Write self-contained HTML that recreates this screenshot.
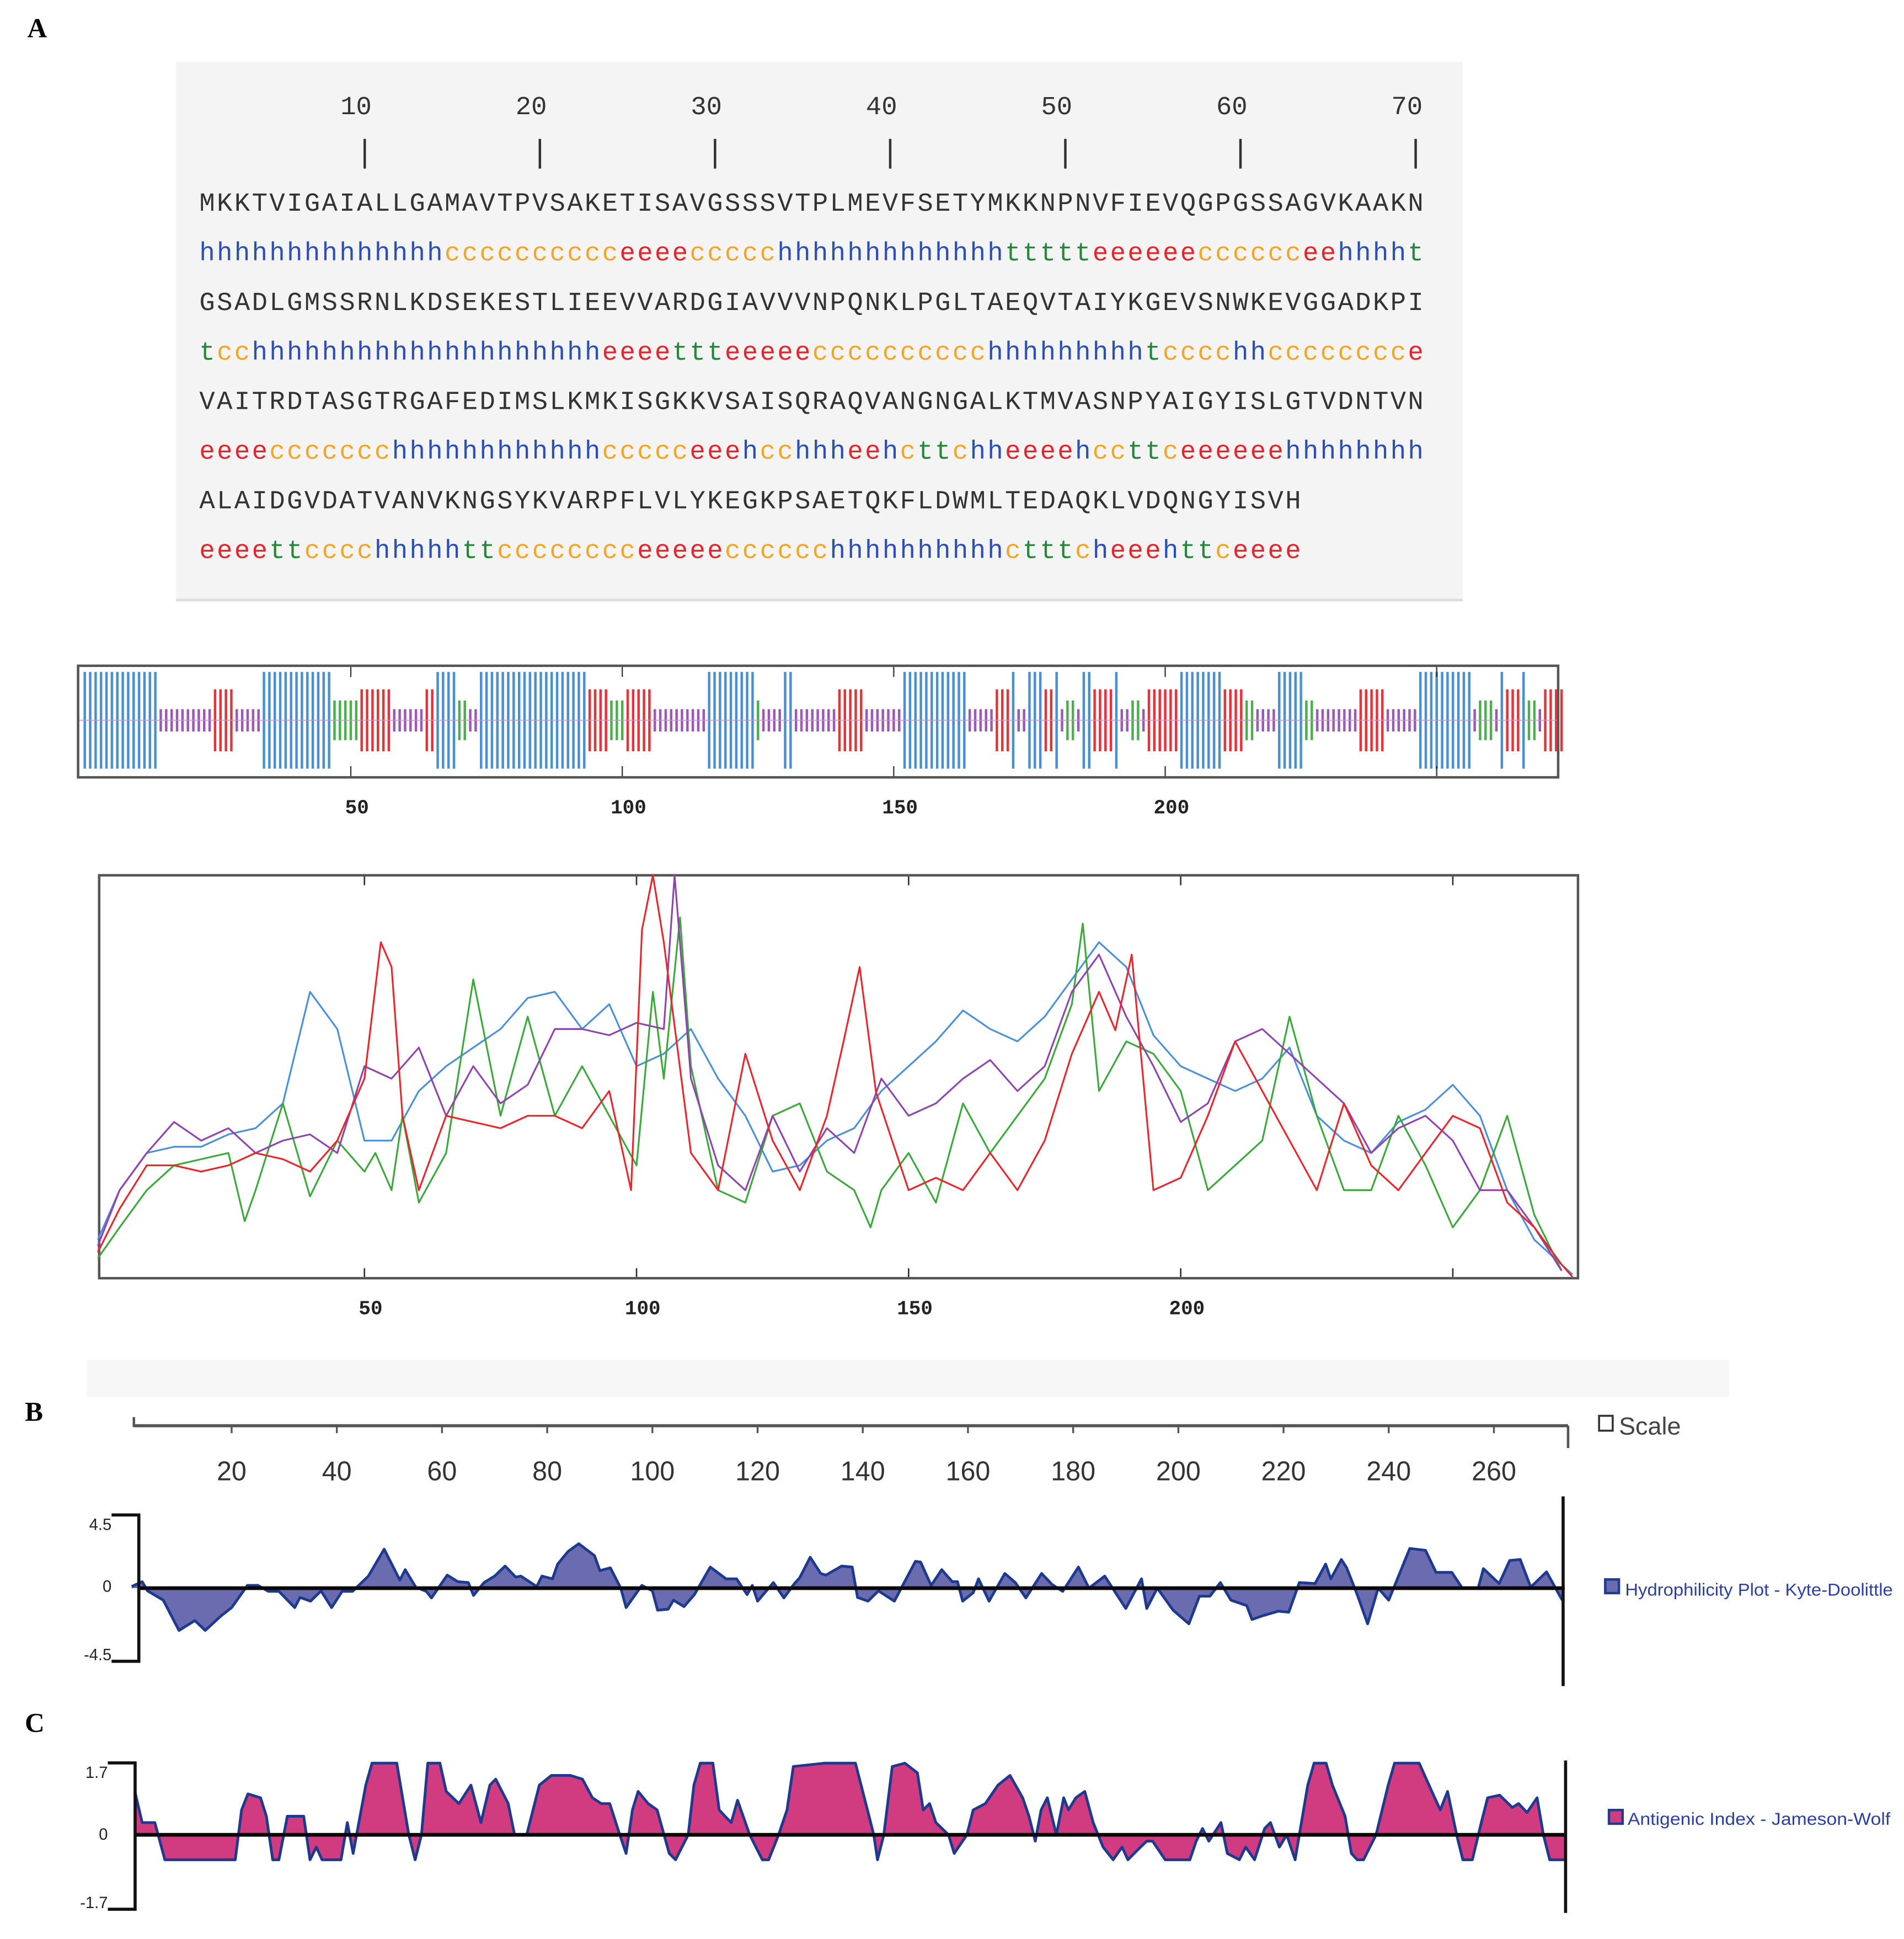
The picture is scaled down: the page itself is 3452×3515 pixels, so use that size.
<!DOCTYPE html>
<html><head><meta charset="utf-8"><style>
html,body{margin:0;padding:0;background:#fff}
svg{display:block}
</style></head><body>
<svg id="root" xmlns="http://www.w3.org/2000/svg" width="3452" height="3515" viewBox="0 0 1536 1564">
<rect x="0" y="0" width="1536" height="1564" fill="#fff"/>
<text x="22" y="30" font-family="Liberation Serif,serif" font-weight="bold" font-size="22">A</text>
<rect x="142" y="50" width="1038" height="434" fill="#f4f4f4"/>
<rect x="142" y="483" width="1038" height="2" fill="#dcdcdc"/>
<g id="seqg"></g>
<g id="trackg"></g>
<g id="lineg"></g>
<rect x="70" y="1097" width="1325" height="30" fill="#f7f7f7"/>
<text x="20" y="1146" font-family="Liberation Serif,serif" font-weight="bold" font-size="22">B</text>
<text x="20" y="1397" font-family="Liberation Serif,serif" font-weight="bold" font-size="22">C</text>
<g id="rulerg"></g>
<rect x="1290" y="1142" width="11" height="12" fill="#fff" stroke="#333" stroke-width="1.6"/>
<text x="1306" y="1157" font-family="Liberation Sans,sans-serif" font-size="20" fill="#444" textLength="50" lengthAdjust="spacingAndGlyphs">Scale</text>
<g id="hydg"></g>
<g id="antg"></g>
<rect x="1295" y="1274" width="11" height="11" fill="#6b6bb0" stroke="#1f3c8f" stroke-width="2"/>
<text x="1311" y="1287" font-family="Liberation Sans,sans-serif" font-size="14" fill="#2a3fa0" textLength="216" lengthAdjust="spacingAndGlyphs">Hydrophilicity Plot - Kyte-Doolittle</text>
<rect x="1298" y="1460" width="11" height="11" fill="#d13c80" stroke="#1f3c8f" stroke-width="2"/>
<text x="1313" y="1472" font-family="Liberation Sans,sans-serif" font-size="14" fill="#2a3fa0" textLength="212" lengthAdjust="spacingAndGlyphs">Antigenic Index - Jameson-Wolf</text>
</svg>
<script>
// ---------- data ----------
const seqLines = [
"MKKTVIGAIALLGAMAVTPVSAKETISAVGSSSVTPLMEVFSETYMKKNPNVFIEVQGPGSSAGVKAAKN",
"GSADLGMSSRNLKDSEKESTLIEEVVARDGIAVVVNPQNKLPGLTAEQVTAIYKGEVSNWKEVGGADKPI",
"VAITRDTASGTRGAFEDIMSLKMKISGKKVSAISQRAQVANGNGALKTMVASNPYAIGYISLGTVDNTVN",
"ALAIDGVDATVANVKNGSYKVARPFLVLYKEGKPSAETQKFLDWMLTEDAQKLVDQNGYISVH"];
const ssRuns = [
"h14 c10 e4 c5 h13 t5 e6 c6 e2 h4 t1",
"t1 c2 h20 e4 t3 e5 c10 h9 t1 c4 h2 c8 e1",
"e4 c7 h12 c5 e3 h1 c2 h3 e2 h1 c1 t2 c1 h2 e4 h1 c2 t2 c1 e6 h8",
"e4 t2 c4 h5 t2 c8 e5 c6 h10 c1 t3 c1 h1 e3 h1 t2 c1 e4"];
const rulerTicks = [10,20,30,40,50,60,70];
const trackTicks = [50,100,150,200];

const blueRes = [1,5,10,15,20,25,30,35,40,45,50,55,60,65,70,75,80,85,90,95,100,105,110,115,120,125,130,135,140,145,150,155,160,165,170,175,180,185,190,195,200,205,210,215,220,225,230,235,240,245,250,255,260,265,270,272];
const blueVal = [31,71,101,106,106,116,121,141,231,201,111,111,151,171,186,201,226,231,201,221,171,181,201,161,131,86,91,111,121,151,171,191,216,201,191,211,241,271,251,196,171,161,151,161,186,131,111,101,126,136,156,131,71,31,11,3];
const redRes = [1,5,10,15,20,25,30,35,40,45,50,53,55,57,60,65,70,75,80,85,90,95,99,101,103,105,110,115,120,125,130,135,138,141,144,150,155,160,165,170,175,180,185,188,191,195,200,205,210,215,220,225,230,235,240,245,250,255,260,265,270,272];
const redVal = [21,56,91,91,86,91,101,96,86,111,161,271,251,131,71,131,126,121,131,131,121,151,71,281,325,271,101,71,181,111,71,131,190,251,150,71,81,71,101,71,111,181,231,200,261,71,81,131,191,151,111,71,141,91,71,101,131,121,61,41,11,1];
const greenRes = [1,5,10,15,20,25,28,30,35,40,45,50,52,55,57,60,65,70,75,80,85,90,95,100,103,105,108,110,115,120,125,130,135,140,143,145,150,155,160,165,170,175,180,182,185,190,195,200,205,210,215,220,225,230,235,240,245,250,255,260,265,270];
const greenVal = [16,41,71,91,96,101,46,71,141,66,111,86,101,71,131,61,101,241,131,211,131,171,131,91,231,161,291,171,71,61,131,141,86,71,41,71,101,61,141,101,131,161,221,286,151,191,181,151,71,91,111,211,131,71,71,131,91,41,71,131,51,6];
const purpleRes = [1,5,10,15,20,25,30,35,40,45,50,55,60,65,70,75,80,85,90,95,100,105,107,110,115,120,125,130,135,140,145,150,155,160,165,170,175,180,185,190,195,200,205,210,215,220,225,230,235,240,245,250,255,260,265,270];
const purpleVal = [26,71,101,126,111,121,101,111,116,101,171,161,186,131,171,141,156,201,201,196,206,201,325,161,91,71,131,86,121,101,161,131,141,161,176,151,171,231,261,211,171,126,141,191,201,181,161,141,101,121,131,111,71,71,41,6];

const hydRes = [1,3,4,7,10,13,15,18,20,23,25,27,29,32,33,35,37,39,41,43,46,49,52,53,55,57,58,61,63,65,66,68,70,72,74,75,78,79,81,82,84,86,89,90,92,94,95,98,100,101,103,104,106,108,111,114,116,118,119,120,123,125,127,128,130,132,133,136,138,139,141,143,146,150,151,153,155,157,158,159,161,162,164,167,169,171,174,176,178,181,183,186,190,193,194,196,199,202,204,206,208,210,213,214,216,219,221,223,226,228,229,231,232,234,236,238,240,244,247,249,252,254,257,258,261,263,265,267,270,273];
const hydVal = [0.1,0.4,-0.17,-0.74,-2.6,-2.0,-2.6,-1.7,-1.2,0.17,0.17,-0.2,-0.2,-1.2,-0.57,-0.8,-0.17,-1.2,-0.2,-0.2,0.74,2.4,0.5,1.14,0.06,-0.2,-0.6,0.8,0.4,0.34,-0.45,0.34,0.74,1.36,0.68,0.74,0.1,0.74,0.57,1.48,2.27,2.73,2.0,1.08,1.25,0,-1.2,0.17,-0.17,-1.36,-1.3,-0.74,-1.14,-0.4,1.3,0.57,0.57,-0.4,0.17,-0.8,0.34,-0.6,0.28,0.63,1.9,0.9,0.8,1.36,1.3,-0.57,-0.8,-0.17,-0.8,1.65,1.6,0.17,1.14,0.4,0.4,-0.8,-0.28,0.57,-0.8,0.9,0.34,-0.6,0.9,0.22,-0.2,1.3,0,0.74,-1.25,0.57,-1.25,0,-1.36,-2.2,-0.5,-0.5,0.34,-0.74,-1.08,-1.93,-1.7,-1.42,-1.48,0.34,0.28,1.48,0.57,1.76,1.25,-0.4,-2.2,0,-0.74,2.44,2.33,0.97,0.97,0,0,1.2,0.28,1.7,1.76,0.06,1.0,-0.74];

const antRes = [1.6,3,5.4,7.3,20.7,21.9,23.1,25.5,26.6,27.8,29,30.6,33.7,34.9,36.1,37.2,40.8,42,43.1,45.5,46.7,51.4,53.7,54.9,56.1,57.3,59.6,60.8,63.2,65.5,67.4,69.1,70.2,72.6,73.8,76.1,77.3,78.5,80.8,84.4,86.7,88.6,90.3,91.9,93.8,95,96.2,97.3,99.2,100.9,103.2,104.4,106.8,107.9,109.1,111.5,112.7,113.8,115,116.2,118.5,120.9,122.1,124,125.6,126.8,132.7,138.6,140.9,142.1,142.8,144,145.6,148,150.4,151.5,152.7,153.9,156.3,157.4,159.8,161,163.3,165.7,168,170.4,171.6,172.8,173.9,175.1,176.8,178.2,179.1,180.5,182.2,183.8,185.7,187.6,189.3,190.4,192.8,194,195.1,197.5,199.9,202.2,203.4,204.6,205.8,208.1,209.3,211.6,212.8,214.5,216.4,217.5,219.2,220.6,222.2,224.6,225.8,228.1,229.3,231.7,232.9,234,235.2,237.6,239.9,241.1,245.8,248.2,249.8,251.2,252.9,254.1,255.9,257.6,258.8,261.1,263.5,264.7,266.3,268.2,269.4,270.6,273.4];
const antVal = [1.03,0.29,0.29,-0.59,-0.59,0.59,0.97,0.88,0.44,-0.59,-0.59,0.44,0.44,-0.59,-0.29,-0.59,-0.59,0.29,-0.44,1.18,1.7,1.7,0,-0.59,0,1.7,1.7,1.03,0.74,1.18,0.29,1.18,1.32,0.74,0,0,0.59,1.18,1.41,1.41,1.32,0.88,0.74,0.74,0,-0.44,0.59,1.03,0.74,0.59,-0.44,-0.59,0,1.18,1.7,1.7,0.59,0.44,0.29,0.82,0,-0.59,-0.59,0,0.59,1.62,1.7,1.7,0.59,0,-0.59,0,1.62,1.7,1.47,0.59,0.74,0.29,0,-0.44,0,0.59,0.74,1.18,1.41,0.88,0.44,-0.15,0.59,0.88,0,0.88,0.59,0.88,1.03,0.29,-0.29,-0.59,-0.29,-0.59,-0.29,-0.15,-0.15,-0.59,-0.59,-0.59,-0.15,0.15,-0.15,0.29,-0.44,-0.59,-0.29,-0.59,0.15,0.29,-0.29,0,-0.59,1.18,1.7,1.7,1.18,0.44,-0.44,-0.59,-0.59,0,1.18,1.7,1.7,1.03,0.59,1.03,0,-0.59,-0.59,0.29,0.88,0.94,0.65,0.74,0.53,0.88,0,-0.59,-0.59];

// ---------- helpers ----------
const NS = "http://www.w3.org/2000/svg";
function mk(tag, parent, attrs){ const e=document.createElementNS(NS,tag); for(const k in attrs) e.setAttribute(k,attrs[k]); parent.appendChild(e); return e; }
function expandRuns(s){ return s.split(' ').map(function(p){ return p[0].repeat(parseInt(p.slice(1),10)); }).join(''); }
const ssLines = ssRuns.map(expandRuns);
const ssColor = {h:"#2b4fb3",c:"#f5a524",e:"#e8232b",t:"#23883a"};

// ---------- sequence panel ----------
const seqg = document.getElementById('seqg');
const cw = 14.13, sx0 = 160;
rulerTicks.forEach(function(t){
  const cx = sx0 + (t-0.5)*cw;
  const lb = mk('text', seqg, {x:cx-7, y:92, 'font-family':'Liberation Mono,monospace','font-size':21,fill:'#333','text-anchor':'middle'});
  lb.textContent = t;
  
  
  const tk = mk('line', seqg, {x1:cx,x2:cx,y1:112,y2:136,stroke:'#333','stroke-width':2});
  
  
});
for(let i=0;i<seqLines.length;i++){
  const aa = seqLines[i];
  const ss = ssLines[i];
  const y1 = 170 + i*80, y2 = 210 + i*80;
  const t1 = mk('text', seqg, {y:y1,'font-family':'Liberation Mono,monospace','font-size':21,fill:'#333'});
  
  
  t1.setAttribute('x', aa.split('').map(function(_,j){return (sx0+j*cw+0.8).toFixed(2);}).join(' '));
  t1.textContent = aa;
  const t2 = mk('text', seqg, {y:y2,'font-family':'Liberation Mono,monospace','font-size':21});
  
  
  let j=0;
  while(j<ss.length){
    let k=j; while(k<ss.length && ss[k]===ss[j]) k++;
    const ts = mk('tspan', t2, {fill:ssColor[ss[j]]||'#333'});
    const xs=[]; for(let q=j;q<k;q++) xs.push((sx0+q*cw+0.8).toFixed(2));
    ts.setAttribute('x', xs.join(' '));
    ts.textContent = ss.slice(j,k);
    j=k;
  }
}

// ---------- secondary structure track ----------
const trackg = document.getElementById('trackg');
const tx = function(r){ return 294 + (r-50)*4.38 - 11; };
mk('rect', trackg, {x:63,y:537,width:1194,height:90,fill:'#fff',stroke:'#555','stroke-width':2});
const ssAll = ssLines.join('');
const trackH = {h:39,e:25,t:16,c:9};
const trackC = {h:'#4a8fd3',e:'#e8323a',t:'#4cae4c',c:'#9b59b6'};
for(let i=0;i<ssAll.length;i++){
  const s = ssAll[i]; const hh = trackH[s]||9;
  const b = mk('rect', trackg, {x:tx(i+1)-1, y:581-hh, width:2, height:hh*2, fill:trackC[s]||'#999'});
  
  
}
mk('line', trackg, {x1:64,x2:1256,y1:581,y2:581,stroke:'#c78fd0','stroke-width':1,opacity:0.7});
trackTicks.concat([250]).forEach(function(t){
  const x=tx(t);
  mk('line', trackg, {x1:x,x2:x,y1:538,y2:546,stroke:'#333','stroke-width':1});
  mk('line', trackg, {x1:x,x2:x,y1:618,y2:626,stroke:'#333','stroke-width':1});
});
trackTicks.forEach(function(t){
  const l = mk('text', trackg, {x:tx(t)+5,y:656,'font-family':'Liberation Mono,monospace','font-weight':'bold','font-size':16,fill:'#222','text-anchor':'middle'});
  l.textContent = t;
  
  
});

// ---------- line chart ----------
const lineg = document.getElementById('lineg');
const lx = function(r){ return 294 + (r-50)*4.39; };
const ly = function(v){ return 1031 - v; };
mk('rect', lineg, {x:80,y:706,width:1193,height:325,fill:'#fff',stroke:'#555','stroke-width':2});
[50,100,150,200,250].forEach(function(t){
  const x=lx(t);
  mk('line', lineg, {x1:x,x2:x,y1:707,y2:714,stroke:'#333','stroke-width':1.2});
  mk('line', lineg, {x1:x,x2:x,y1:1023,y2:1030,stroke:'#333','stroke-width':1.2});
});
trackTicks.forEach(function(t){
  const l = mk('text', lineg, {x:lx(t)+5,y:1060,'font-family':'Liberation Mono,monospace','font-weight':'bold','font-size':16,fill:'#222','text-anchor':'middle'});
  l.textContent = t;
  
  
});
function series(res, val, color, name){
  const d = res.map(function(r,i){return (i?'L':'M')+lx(r).toFixed(1)+','+ly(val[i]).toFixed(1);}).join('');
  const p = mk('path', lineg, {d:d,fill:'none',stroke:color,'stroke-width':1.4,'stroke-linejoin':'round'});
  
  
}
series(blueRes, blueVal, '#4a90d9', 'blue-series');
series(greenRes, greenVal, '#3aa83a', 'green-series');
series(purpleRes, purpleVal, '#8e44ad', 'purple-series');
series(redRes, redVal, '#e8262b', 'red-series');

// ---------- scale ruler ----------
const rulerg = document.getElementById('rulerg');
const bx = function(r){ return 102 + r*4.243; };
mk('line', rulerg, {x1:108,x2:1265,y1:1150,y2:1150,stroke:'#555','stroke-width':2.5});
mk('line', rulerg, {x1:108,x2:108,y1:1143,y2:1151,stroke:'#555','stroke-width':2});
mk('line', rulerg, {x1:1265,x2:1265,y1:1150,y2:1168,stroke:'#555','stroke-width':2});
for(let t=20;t<=260;t+=20){
  mk('line', rulerg, {x1:bx(t),x2:bx(t),y1:1150,y2:1156,stroke:'#555','stroke-width':1.5});
  const l = mk('text', rulerg, {x:bx(t),y:1194,'font-family':'Liberation Sans,sans-serif','font-size':22,fill:'#333','text-anchor':'middle',textLength:(t<100?24:36),lengthAdjust:'spacingAndGlyphs'});
  l.textContent = t;
  
  
}

// ---------- area plots ----------
function areaPlot(g, res, val, zeroY, pxPerUnit, fill, axisX, top, bot, labels, rightX, rTop, rBot){
  const yy = function(v){ return zeroY - v*pxPerUnit; };
  let d = 'M'+bx(res[0]).toFixed(1)+','+zeroY;
  res.forEach(function(r,i){ d += 'L'+bx(r).toFixed(1)+','+yy(val[i]).toFixed(1); });
  d += 'L'+bx(res[res.length-1]).toFixed(1)+','+zeroY+'Z';
  const a = mk('path', g, {d:d, fill:fill, stroke:'none'});
  
  
  const ld = res.map(function(r,i){return (i?'L':'M')+bx(r).toFixed(1)+','+yy(val[i]).toFixed(1);}).join('');
  const o = mk('path', g, {d:ld, fill:'none', stroke:'#1d3a8e','stroke-width':2.2,'stroke-linejoin':'round'});
  
  
  mk('line', g, {x1:axisX,x2:bx(273)+2,y1:zeroY,y2:zeroY,stroke:'#0b0606','stroke-width':3});
  mk('path', g, {d:'M'+(axisX-22)+','+top+'H'+axisX+'V'+bot+'H'+(axisX-22),fill:'none',stroke:'#111','stroke-width':2.5});
  labels.forEach(function(L){
    const t = mk('text', g, {x:axisX-22,y:L[1],'font-family':'Liberation Sans,sans-serif','font-size':13,fill:'#222','text-anchor':'end'});
    t.textContent = L[0];
    
    
  });
  mk('line', g, {x1:rightX,x2:rightX,y1:rTop,y2:rBot,stroke:'#111','stroke-width':2.5});
}
areaPlot(document.getElementById('hydg'), hydRes, hydVal, 1281, 13.1, '#6b6bb0', 112, 1222, 1340,
  [['4.5',1234],['0',1284],['-4.5',1339]], 1261, 1207, 1360);
areaPlot(document.getElementById('antg'), antRes, antVal, 1480, 34, '#d13c80', 109, 1422, 1540,
  [['1.7',1434],['0',1484],['-1.7',1539]], 1263, 1420, 1543);
</script>
</body></html>
